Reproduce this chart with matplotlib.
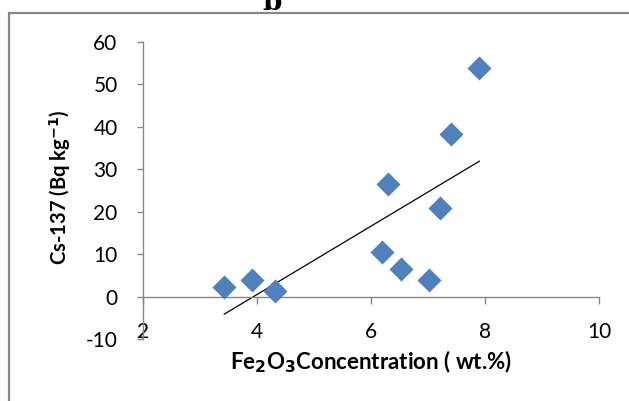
#!/usr/bin/env python3
"""Cs-137 activity against Fe2O3 concentration, with linear trend."""

import matplotlib

matplotlib.use("Agg")
import matplotlib.pyplot as plt  # noqa: E402
import numpy as np  # noqa: E402
from matplotlib.patches import Rectangle  # noqa: E402

# values
fe2o3 = [3.42, 3.91, 4.32, 6.19, 6.30, 6.52, 7.01, 7.21, 7.41, 7.90]
cs137 = [2.2, 3.8, 1.4, 10.4, 26.4, 6.4, 3.8, 20.9, 38.2, 53.9]
x_ticks = [2, 4, 6, 8, 10]
y_ticks = [-10, 0, 10, 20, 30, 40, 50, 60]

BLUE = "#4F81BD"
AXIS = "#868686"
W, H = 629, 401

plt.rcParams.update(
    {
        "font.family": ["Lato", "DejaVu Sans"],
        "font.size": 15,
        "axes.unicode_minus": False,
    }
)

fig = plt.figure(figsize=(W / 100, H / 100), dpi=100)
ax = fig.add_axes([143.3 / W, 1 - 339 / H, (599 - 143.3) / W, (339 - 41.7) / H])

# outer chart frame
fig.patches.append(
    Rectangle((9 / W, -0.1), 1.2, 1.1 - 13 / H, transform=fig.transFigure,
              fill=False, edgecolor=AXIS, linewidth=1.6)
)
fig.text(272 / W, 1 - 10 / H, "b", ha="center", va="baseline",
         fontsize=20, fontweight="bold", family="DejaVu Serif")

ax.scatter(fe2o3, cs137, marker="D", s=150, color=BLUE, zorder=3, linewidths=0)
slope, intercept = np.polyfit(fe2o3, cs137, 1)
xs = np.array([min(fe2o3), max(fe2o3)])
ax.plot(xs, slope * xs + intercept, color="black", linewidth=0.9, zorder=2)

ax.set_xlim(2, 10)
ax.set_ylim(-10, 60)
ax.set_xticks(x_ticks)
ax.set_yticks(y_ticks)
for side in ("top", "right"):
    ax.spines[side].set_visible(False)
ax.spines["bottom"].set_position(("data", 0))
for side in ("left", "bottom"):
    ax.spines[side].set_color(AXIS)
    ax.spines[side].set_linewidth(1.0)
ax.tick_params(axis="y", direction="out", length=4.5, width=1.0, color=AXIS, pad=14)
ax.tick_params(axis="x", direction="out", length=5, width=1.0, color=AXIS, pad=13)

ax.set_ylabel(r"Cs-137 (Bq kg$^{\mathbf{-1}}$)", fontweight="bold", fontsize=14.5)
ax.yaxis.set_label_coords(-(143.3 - 60) / (599 - 143.3), 0.51)
ax.set_xlabel(r"Fe$_\mathbf{2}$O$_\mathbf{3}$Concentration ( wt.%)",
              fontweight="bold", fontsize=16)
ax.xaxis.set_label_coords(0.5, -(362 - 339) / (339 - 41.7))
ax.xaxis.label.set_va("center")
ax.yaxis.label.set_va("center")

fig.savefig("out.png", dpi=100)
